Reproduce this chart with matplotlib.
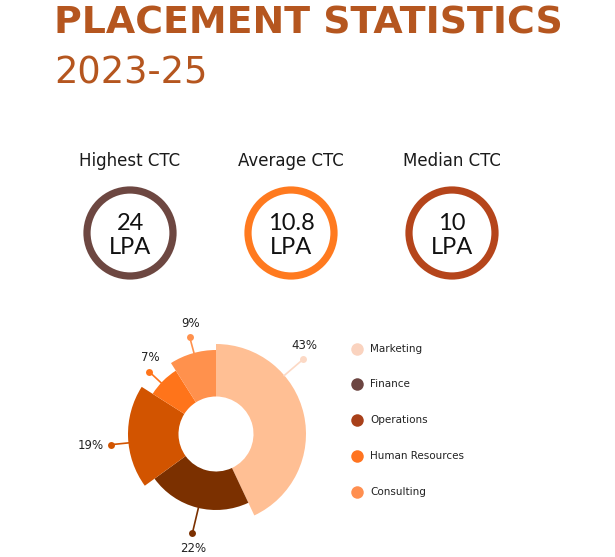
import matplotlib

matplotlib.use("Agg")
import matplotlib.pyplot as plt
import numpy as np
from matplotlib.patches import Circle, Wedge

# ---- data ----
title = "PLACEMENT STATISTICS"
subtitle = "2023-25"

ctc_labels = ["Highest CTC", "Average CTC", "Median CTC"]
ctc_values = ["24", "10.8", "10"]
ctc_unit = "LPA"

departments = ["Marketing", "Finance", "Operations", "Human Resources", "Consulting"]
shares = [43, 22, 19, 7, 9]

# ---- style ----
W, H = 615, 557
TITLE_COLOR = "#B5561F"
ring_colors = ["#6D4741", "#FF7A1F", "#B5451B"]
wedge_colors = ["#FFBF94", "#7B3000", "#D25400", "#FF741A", "#FF914D"]
legend_colors = ["#FAD3BF", "#6C4541", "#A8401A", "#FF7420", "#FF8F50"]
leader_colors = ["#FCD9C5", "#7B3000", "#D25400", "#FF741A", "#FF914D"]
outer_radii = [90, 76, 88, 75, 84]
leader_len = [25, 26, 18, 16, 16]
angle_shift = [28, 1, 4, 2, -1]
HOLE = 37.5
FONT = "DejaVu Sans"
VALUE_FONT = ["Lato", "DejaVu Sans"]


def img_y(y):
    return H - y


fig = plt.figure(figsize=(W / 100, H / 100), dpi=100)
ax = fig.add_axes([0, 0, 1, 1])
ax.set_xlim(0, W)
ax.set_ylim(0, H)
ax.set_aspect("equal")
ax.axis("off")

# titles
ax.text(54, img_y(33), title, color=TITLE_COLOR, fontsize=27.3, fontweight="bold",
        family=FONT, ha="left", va="baseline")
ax.text(54, img_y(83), subtitle, color=TITLE_COLOR, fontsize=26.5,
        family=FONT, ha="left", va="baseline")

# CTC rings
ring_x = [130, 291, 452]
ring_y = img_y(233)
for x, lab, val, col in zip(ring_x, ctc_labels, ctc_values, ring_colors):
    ax.add_patch(Circle((x, ring_y), 43, fill=False, edgecolor=col, linewidth=5.2))
    ax.text(x, img_y(161), lab, fontsize=12, family=FONT, color="#1a1a1a",
            ha="center", va="center")
    ax.text(x, img_y(224), val, fontsize=17, family=VALUE_FONT, fontweight="normal",
            color="#111111", ha="center", va="center")
    ax.text(x, img_y(247), ctc_unit, fontsize=17, family=VALUE_FONT, fontweight="normal",
            color="#111111", ha="center", va="center")

# variable-radius donut
cx, cy = 216, img_y(434)
total = float(sum(shares))
start = 90.0
for i, (share, r, col) in enumerate(zip(shares, outer_radii, wedge_colors)):
    sweep = share / total * 360.0
    t2 = start
    t1 = start - sweep
    ax.add_patch(Wedge((cx, cy), r, t1, t2, width=r - HOLE, facecolor=col,
                       edgecolor="none"))
    ang = np.deg2rad((t1 + t2) / 2 + angle_shift[i])
    ux, uy = np.cos(ang), np.sin(ang)
    r_dot = r + leader_len[i]
    x0, y0 = cx + (r - 1) * ux, cy + (r - 1) * uy
    x1, y1 = cx + r_dot * ux, cy + r_dot * uy
    ax.plot([x0, x1], [y0, y1], color=leader_colors[i], lw=1.2, solid_capstyle="butt")
    ax.plot(x1, y1, "o", color=leader_colors[i], markersize=5, markeredgewidth=0)
    label = f"{share}%"
    if abs(uy) > 0.5:
        ax.text(x1 + 1, y1 + (14 if uy > 0 else -15), label, fontsize=8.5, family=FONT,
                color="#222222", ha="center", va="center")
    else:
        ax.text(x1 + (7 if ux > 0 else -7), y1 - 1, label, fontsize=8.5, family=FONT,
                color="#222222", ha="left" if ux > 0 else "right", va="center")
    start = t1

# legend
leg_y = [349, 384, 420, 456, 492]
for name, col, y in zip(departments, legend_colors, leg_y):
    ax.plot(357, img_y(y), "o", color=col, markersize=9, markeredgewidth=0)
    ax.text(370, img_y(y), name, fontsize=7.5, family=FONT, color="#222222",
            ha="left", va="center")

fig.savefig("out.png", dpi=100, facecolor="white")
